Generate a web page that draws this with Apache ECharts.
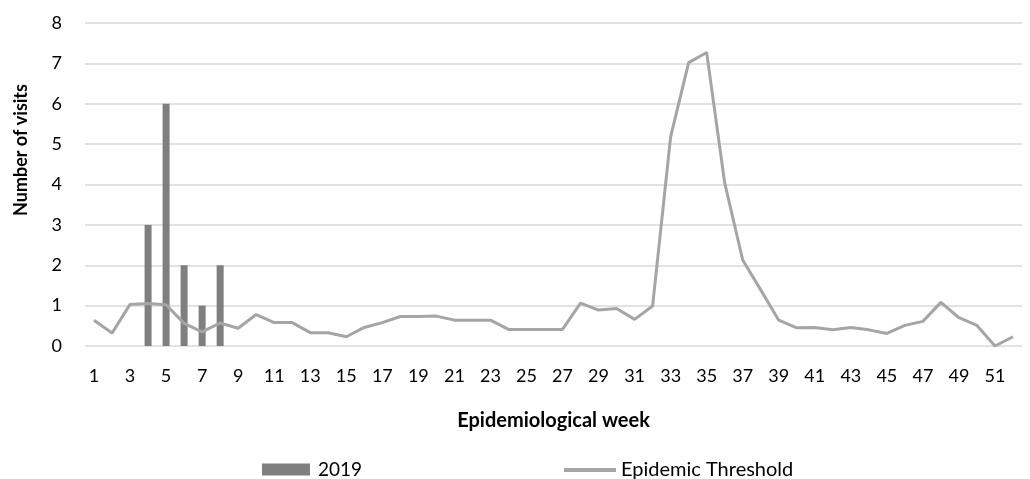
<!DOCTYPE html>
<html>
<head>
<meta charset="utf-8">
<script src="https://cdn.jsdelivr.net/npm/echarts@6/dist/echarts.min.js"></script>
<style>
  html, body { margin: 0; padding: 0; background: #fff; }
  #chart { width: 1030px; height: 479px; }
</style>
</head>
<body>
<div id="chart"></div>
<script>
// Epidemiological weeks 1..52
const weeks = Array.from({ length: 52 }, (_, i) => String(i + 1));

// Visits recorded in 2019 (only weeks 4-8 have cases)
const visits2019 = [null, null, null, 3, 6, 2, 1, 2, null, null, null, null, null,
  null, null, null, null, null, null, null, null, null, null, null, null, null,
  null, null, null, null, null, null, null, null, null, null, null, null, null,
  null, null, null, null, null, null, null, null, null, null, null, null, null];

// Epidemic threshold per week
const threshold = [0.64, 0.32, 1.03, 1.05, 1.02, 0.56, 0.35, 0.57, 0.44, 0.78,
  0.58, 0.58, 0.33, 0.33, 0.23, 0.46, 0.58, 0.73, 0.73, 0.74,
  0.64, 0.64, 0.64, 0.41, 0.41, 0.41, 0.41, 1.06, 0.89, 0.93,
  0.66, 0.99, 5.18, 7.02, 7.27, 4.04, 2.13, 1.39, 0.64, 0.45,
  0.46, 0.40, 0.46, 0.40, 0.31, 0.51, 0.61, 1.08, 0.70, 0.51,
  0.00, 0.23];

const yTicks = [0, 1, 2, 3, 4, 5, 6, 7, 8];

const font = 'Lato, "Noto Sans", sans-serif';
const chart = echarts.init(document.getElementById('chart'));
chart.setOption({
  animation: false,
  grid: { left: 85, right: 8, top: 23, bottom: 133 },
  graphic: [
    {
      type: 'text',
      x: 21, y: 150,
      rotation: Math.PI / 2,
      style: {
        text: 'Number of visits',
        fontFamily: font, fontSize: 18, fontWeight: 'bold', fill: '#000',
        align: 'center', verticalAlign: 'middle'
      }
    }
  ],
  legend: [
    {
      left: 257, top: 455,
      itemWidth: 48, itemHeight: 12,
      textStyle: { fontFamily: font, fontSize: 19, color: '#000', padding: [0, 0, 0, 3] },
      data: [{ name: '2019', icon: 'rect' }]
    },
    {
      left: 559, top: 455,
      itemWidth: 52, itemHeight: 4,
      textStyle: { fontFamily: font, fontSize: 20, color: '#000', padding: [0, 0, 0, 0] },
      data: [{ name: 'Epidemic Threshold', icon: 'rect', itemStyle: { color: '#a5a5a5' } }]
    }
  ],
  xAxis: {
    type: 'category',
    data: weeks,
    boundaryGap: true,
    name: 'Epidemiological week',
    nameLocation: 'middle',
    nameGap: 65,
    nameTextStyle: { fontFamily: font, fontSize: 20, fontWeight: 'bold', color: '#000' },
    axisLine: { show: false },
    axisTick: { show: false },
    axisLabel: { interval: 1, margin: 21, fontFamily: font, fontSize: 18, color: '#000' }
  },
  yAxis: {
    type: 'value',
    min: yTicks[0],
    max: yTicks[yTicks.length - 1],
    interval: 1,
    axisLine: { show: false },
    axisTick: { show: false },
    axisLabel: { margin: 23, fontFamily: font, fontSize: 18, color: '#000' },
    splitLine: { lineStyle: { color: '#d9d9d9', width: 1.5 } }
  },
  series: [
    {
      name: '2019',
      type: 'bar',
      data: visits2019,
      barWidth: 7,
      itemStyle: { color: '#7f7f7f' }
    },
    {
      name: 'Epidemic Threshold',
      type: 'line',
      data: threshold,
      symbol: 'none',
      lineStyle: { color: '#a5a5a5', width: 3 },
      itemStyle: { color: '#a5a5a5' }
    }
  ]
});
</script>
</body>
</html>
